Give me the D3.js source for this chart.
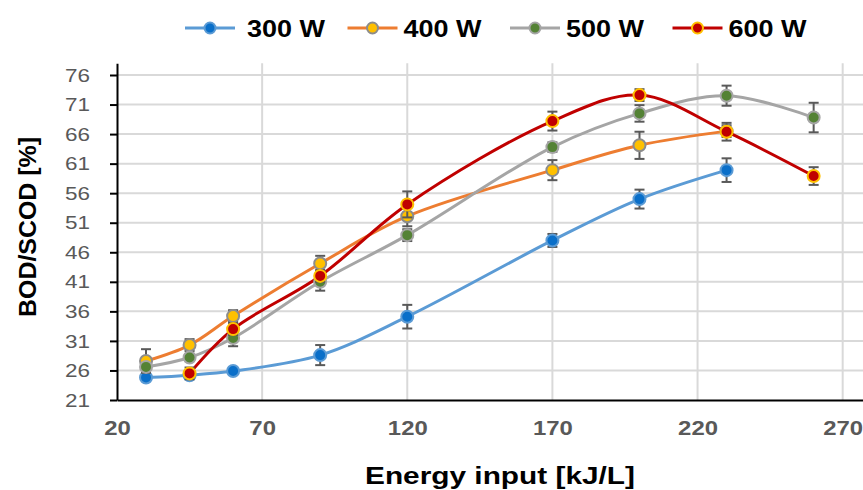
<!DOCTYPE html>
<html>
<head>
<meta charset="utf-8">
<script src="https://cdn.jsdelivr.net/npm/d3@7"></script>
<style>
  body { margin: 0; background: #fff; }
  svg { display: block; font-family: "Liberation Sans", Arial, sans-serif; }
</style>
</head>
<body>
<svg id="chart" width="863" height="490"></svg>
<script>
// ---- data ----
const energy = [30, 45, 60, 90, 120, 170, 200, 230, 260];
const xTicks = [20, 70, 120, 170, 220, 270];
const yTicks = [21, 26, 31, 36, 41, 46, 51, 56, 61, 66, 71, 76];

const bod300 = [24.8, 25.2, 25.9, 28.6, 35.1, 48.0, 55.0, 59.9, null];
const err300 = [0.4, 0.4, 0.4, 1.7, 2.0, 1.1, 1.6, 2.0, null];
const bod400 = [27.6, 30.3, 35.2, 44.1, 52.1, 59.9, 64.1, 66.5, null];
const err400 = [2.0, 1.0, 1.0, 1.3, 1.7, 1.7, 2.3, 1.0, null];
const bod500 = [26.6, 28.2, 31.5, 41.0, 48.9, 63.8, 69.5, 72.5, 68.8];
const err500 = [0.5, 0.5, 1.4, 1.5, 1.0, 0.8, 1.4, 1.7, 2.5];
const bod600 = [null, 25.5, 33.0, 42.0, 54.1, 68.2, 72.6, 66.4, 58.9];
const err600 = [null, 1.0, 1.0, 1.0, 2.2, 1.6, 1.0, 1.5, 1.5];

const seriesNames = ['300 W', '400 W', '500 W', '600 W'];

// styles per series
const styles = [
  { line: '#5B9BD5', fill: '#0A6FC9', stroke: '#5B9BD5' },
  { line: '#ED7D31', fill: '#FFC000', stroke: '#8C8C8C' },
  { line: '#A5A5A5', fill: '#548235', stroke: '#A5A5A5' },
  { line: '#C00000', fill: '#C00000', stroke: '#FFC000' }
];

const series = [
  { vals: bod300, errs: err300 },
  { vals: bod400, errs: err400 },
  { vals: bod500, errs: err500 },
  { vals: bod600, errs: err600 }
].map((s, i) => ({
  name: seriesNames[i],
  style: styles[i],
  points: energy.map((x, j) => ({ x, y: s.vals[j], e: s.errs[j] })).filter(p => p.y != null)
}));

const svg = d3.select('#chart');

const x = d3.scaleLinear().domain([20, 277]).range([117, 863]);
const y = d3.scaleLinear().domain([21, 78]).range([400, 400 - 57 * 325 / 55]);

// gridlines
svg.append('g')
  .selectAll('line')
  .data(yTicks.slice(1))
  .join('line')
  .attr('x1', x(20)).attr('x2', 863)
  .attr('y1', d => y(d)).attr('y2', d => y(d))
  .attr('stroke', '#d9d9d9').attr('stroke-width', 2);

svg.append('g')
  .selectAll('line')
  .data(xTicks.slice(1))
  .join('line')
  .attr('x1', d => x(d)).attr('x2', d => x(d))
  .attr('y1', y(78)).attr('y2', y(21))
  .attr('stroke', '#d9d9d9').attr('stroke-width', 2);

// y axis
const yAxis = svg.append('g')
  .attr('transform', `translate(${x(20)},0)`)
  .call(d3.axisLeft(y).tickValues(yTicks).tickSize(7).tickPadding(20).tickSizeOuter(0));
yAxis.select('.domain').attr('stroke', '#000').attr('stroke-width', 2);
yAxis.selectAll('.tick line').attr('stroke', '#000').attr('stroke-width', 2);
yAxis.selectAll('.tick text')
  .attr('fill', '#595959')
  .attr('font-family', '"Liberation Sans", Arial, sans-serif')
  .attr('textLength', d => String(d).length * 12.5)
  .attr('lengthAdjust', 'spacingAndGlyphs')
  .style('font-size', '19px');

// x axis
const xAxis = svg.append('g')
  .attr('transform', `translate(0,${y(21)})`)
  .call(d3.axisBottom(x).tickValues(xTicks).tickSize(0).tickPadding(20).tickSizeOuter(0));
xAxis.select('.domain').attr('stroke', '#000').attr('stroke-width', 2);
xAxis.selectAll('.tick text')
  .attr('fill', '#595959')
  .attr('font-family', '"Liberation Sans", Arial, sans-serif')
  .attr('textLength', d => String(d).length * 13.3)
  .attr('lengthAdjust', 'spacingAndGlyphs')
  .style('font-size', '21px')
  .style('font-weight', 'bold');

// axis titles
svg.append('text')
  .attr('transform', `translate(36,227) rotate(-90)`)
  .attr('text-anchor', 'middle')
  .attr('textLength', 180).attr('lengthAdjust', 'spacingAndGlyphs')
  .style('font-size', '24px').style('font-weight', 'bold')
  .text('BOD/SCOD [%]');

svg.append('text')
  .attr('x', 500).attr('y', 484)
  .attr('text-anchor', 'middle')
  .attr('textLength', 270).attr('lengthAdjust', 'spacingAndGlyphs')
  .style('font-size', '24px').style('font-weight', 'bold')
  .text('Energy input [kJ/L]');

// lines
const line = d3.line()
  .x(d => x(d.x)).y(d => y(d.y))
  .curve(d3.curveCatmullRom.alpha(0.5));

svg.append('g')
  .selectAll('path')
  .data(series)
  .join('path')
  .attr('d', d => line(d.points))
  .attr('fill', 'none')
  .attr('stroke', d => d.style.line)
  .attr('stroke-width', 3);

// error bars + markers per series
series.forEach(s => {
  const g = svg.append('g');
  const eb = g.selectAll('g')
    .data(s.points.filter(p => p.e))
    .join('g');
  eb.append('line')
    .attr('x1', d => x(d.x)).attr('x2', d => x(d.x))
    .attr('y1', d => y(d.y - d.e)).attr('y2', d => y(d.y + d.e));
  eb.append('line')
    .attr('x1', d => x(d.x) - 5).attr('x2', d => x(d.x) + 5)
    .attr('y1', d => y(d.y + d.e)).attr('y2', d => y(d.y + d.e));
  eb.append('line')
    .attr('x1', d => x(d.x) - 5).attr('x2', d => x(d.x) + 5)
    .attr('y1', d => y(d.y - d.e)).attr('y2', d => y(d.y - d.e));
  eb.selectAll('line').attr('stroke', '#595959').attr('stroke-width', 2);

  g.selectAll('circle')
    .data(s.points)
    .join('circle')
    .attr('cx', d => x(d.x)).attr('cy', d => y(d.y))
    .attr('r', 6)
    .attr('fill', s.style.fill)
    .attr('stroke', s.style.stroke)
    .attr('stroke-width', 2);
});

// legend
const legend = svg.append('g')
  .selectAll('g')
  .data(series)
  .join('g')
  .attr('transform', (d, i) => `translate(${185 + i * 162.5},28)`);
legend.append('line')
  .attr('x1', 0).attr('x2', 50).attr('y1', 0).attr('y2', 0)
  .attr('stroke', d => d.style.line).attr('stroke-width', 3);
legend.append('circle')
  .attr('cx', 25).attr('cy', 0).attr('r', 5.5)
  .attr('fill', d => d.style.fill)
  .attr('stroke', d => d.style.stroke).attr('stroke-width', 2);
legend.append('text')
  .attr('x', (d, i) => i === 0 ? 62 : 56).attr('y', 9)
  .attr('textLength', 78).attr('lengthAdjust', 'spacingAndGlyphs')
  .style('font-size', '24px').style('font-weight', 'bold')
  .text(d => d.name);
</script>
</body>
</html>
